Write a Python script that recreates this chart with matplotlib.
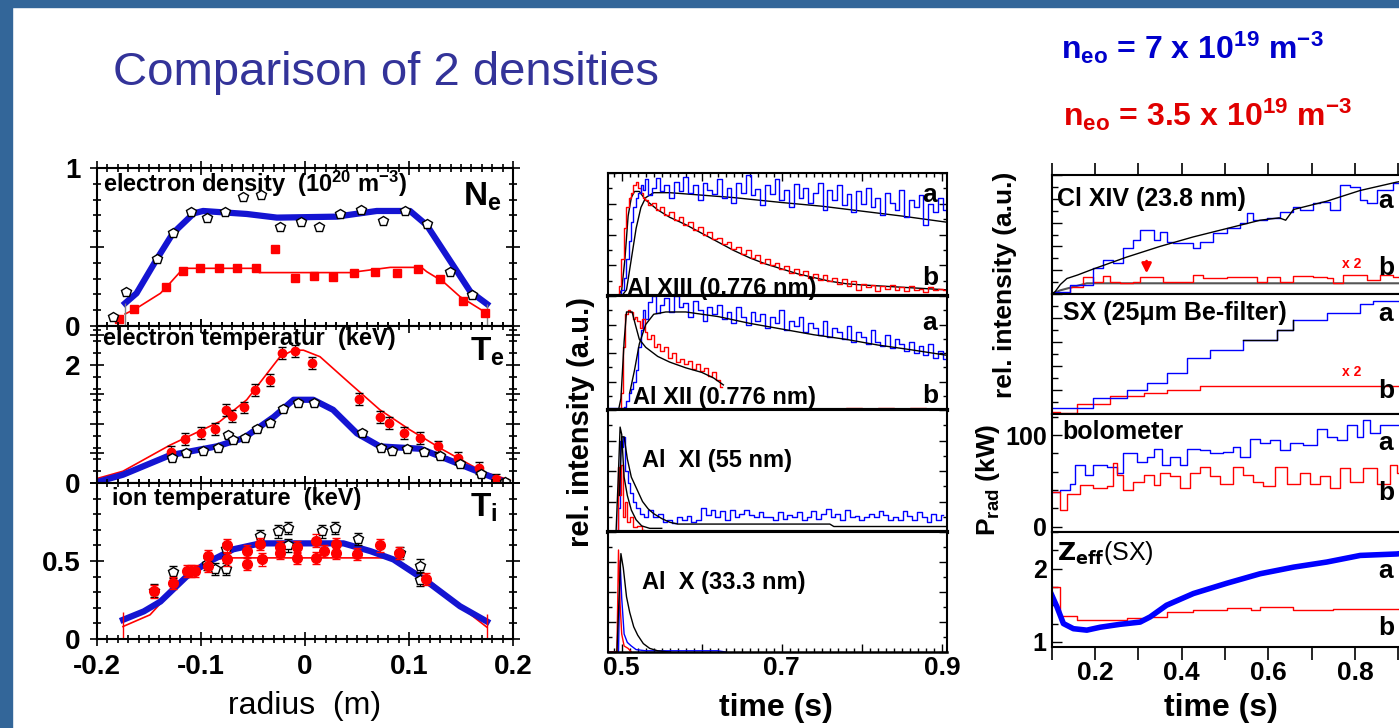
import matplotlib
matplotlib.use("Agg")
import matplotlib.pyplot as plt
import numpy as np
from matplotlib.patches import Rectangle
from matplotlib.ticker import MultipleLocator, FuncFormatter

plt.rcParams['font.family'] = ['Liberation Sans', 'DejaVu Sans']
plt.rcParams['mathtext.default'] = 'regular'

W, H = 1399, 728
BLUE = '#0000ff'
BLUE_FIT = '#1414d2'
RED = '#ff0000'
BAND = '#336699'

# ---------------- left: radial profiles ----------------
ne_fit_a_r = [-0.173, -0.162, -0.143, -0.127, -0.107, -0.098, -0.056, -0.027, 0.030, 0.069, 0.101, 0.117, 0.139, 0.159, 0.175]
ne_fit_a = [0.144, 0.207, 0.418, 0.587, 0.713, 0.728, 0.709, 0.686, 0.692, 0.728, 0.728, 0.639, 0.418, 0.217, 0.139]
ne_fit_b_r = [-0.173, -0.162, -0.139, -0.130, -0.117, -0.046, -0.044, 0.043, 0.082, 0.112, 0.117, 0.133, 0.149, 0.175]
ne_fit_b = [0.076, 0.112, 0.207, 0.27, 0.365, 0.365, 0.338, 0.338, 0.371, 0.371, 0.344, 0.28, 0.186, 0.08]
ne_red_r = [-0.1785, -0.164, -0.134, -0.117, -0.101, -0.083, -0.065, -0.047, -0.029, -0.010, 0.009, 0.027, 0.047, 0.067, 0.088, 0.109, 0.130, 0.152, 0.173]
ne_red = [0.042, 0.105, 0.245, 0.35, 0.365, 0.367, 0.369, 0.367, 0.487, 0.302, 0.316, 0.31, 0.335, 0.34, 0.333, 0.363, 0.30, 0.16, 0.08]
ne_blk_r = [-0.185, -0.172, -0.142, -0.127, -0.110, -0.094, -0.077, -0.060, -0.042, -0.024, -0.004, 0.0135, 0.034, 0.054, 0.075, 0.096, 0.117, 0.139, 0.161]
ne_blk = [0.055, 0.217, 0.424, 0.59, 0.719, 0.686, 0.724, 0.819, 0.829, 0.628, 0.66, 0.628, 0.707, 0.734, 0.667, 0.728, 0.644, 0.344, 0.196]

te_fit_b_r = [-0.205, -0.175, -0.130, -0.082, -0.056, -0.024, -0.011, -0.0015, 0.0144, 0.043, 0.072, 0.101, 0.133, 0.171, 0.197]
te_fit_b = [0.05, 0.2, 0.64, 1.04, 1.41, 2.14, 2.25, 2.25, 2.14, 1.69, 1.24, 0.9, 0.56, 0.19, 0.05]
te_fit_a_r = [-0.199, -0.175, -0.130, -0.085, -0.059, -0.030, -0.011, 0.008, 0.027, 0.050, 0.072, 0.111, 0.130, 0.171, 0.192]
te_fit_a = [0.02, 0.14, 0.47, 0.62, 0.76, 1.12, 1.41, 1.41, 1.24, 0.84, 0.62, 0.58, 0.45, 0.16, 0.02]
te_red_r = [-0.129, -0.115, -0.100, -0.087, -0.076, -0.070, -0.059, -0.048, -0.034, -0.022, -0.010, 0.007, 0.052, 0.072, 0.081, 0.095, 0.111, 0.128, 0.147, 0.167, 0.184]
te_red = [0.53, 0.74, 0.85, 0.91, 1.24, 1.14, 1.28, 1.58, 1.75, 2.2, 2.24, 2.03, 1.42, 1.12, 1.01, 0.85, 0.76, 0.62, 0.42, 0.25, 0.06]
te_blk_r = [-0.128, -0.114, -0.098, -0.084, -0.074, -0.069, -0.058, -0.046, -0.034, -0.021, -0.007, 0.009, 0.055, 0.073, 0.084, 0.098, 0.114, 0.130, 0.149, 0.169, 0.192]
te_blk = [0.42, 0.51, 0.55, 0.59, 0.81, 0.73, 0.77, 0.91, 1.02, 1.25, 1.35, 1.35, 0.84, 0.6, 0.55, 0.58, 0.53, 0.46, 0.33, 0.16, 0.02]

ti_fit_a_r = [-0.175, -0.155, -0.139, -0.114, -0.094, -0.069, -0.043, 0.037, 0.063, 0.085, 0.117, 0.149, 0.175]
ti_fit_a = [0.123, 0.177, 0.24, 0.40, 0.49, 0.575, 0.613, 0.613, 0.563, 0.51, 0.37, 0.21, 0.112]
ti_fit_b_r = [-0.175, -0.149, -0.114, -0.094, -0.075, 0.085, 0.117, 0.149, 0.175]
ti_fit_b = [0.08, 0.155, 0.41, 0.50, 0.52, 0.52, 0.39, 0.21, 0.075]
ti_red_r = [-0.145, -0.127, -0.113, -0.110, -0.106, -0.093, -0.093, -0.075, -0.075, -0.056, -0.056, -0.043, -0.041,
            -0.024, -0.024, -0.008, -0.008, 0.011, 0.011, 0.018, 0.030, 0.030, 0.050, 0.072, 0.090, 0.116]
ti_red = [0.305, 0.36, 0.435, 0.435, 0.435, 0.53, 0.47, 0.51, 0.60, 0.565, 0.48, 0.61, 0.51,
          0.59, 0.55, 0.59, 0.52, 0.63, 0.52, 0.565, 0.61, 0.55, 0.545, 0.60, 0.55, 0.385]
ti_blk_r = [-0.145, -0.127, -0.094, -0.087, -0.076, -0.076, -0.043, -0.026, -0.016, -0.016, 0.016, 0.029, 0.051, 0.091, 0.111, 0.111]
ti_blk = [0.31, 0.43, 0.48, 0.45, 0.45, 0.575, 0.66, 0.69, 0.71, 0.60, 0.69, 0.71, 0.64, 0.55, 0.47, 0.38]

# ---------------- middle: Al line intensities ----------------
t_mid = [0.4825, 0.490, 0.495, 0.498, 0.501, 0.504, 0.507, 0.510, 0.513, 0.516,
         0.519, 0.522, 0.525, 0.528, 0.531, 0.535, 0.540, 0.545, 0.550, 0.556,
         0.562, 0.568, 0.574, 0.580, 0.586, 0.592, 0.598, 0.604, 0.610, 0.616,
         0.622, 0.628, 0.634, 0.640, 0.646, 0.652, 0.658, 0.664, 0.670, 0.676,
         0.682, 0.688, 0.694, 0.700, 0.706, 0.712, 0.718, 0.724, 0.730, 0.736,
         0.742, 0.748, 0.754, 0.760, 0.766, 0.772, 0.778, 0.784, 0.790, 0.796,
         0.802, 0.808, 0.814, 0.820, 0.826, 0.832, 0.838, 0.844, 0.850, 0.856,
         0.862, 0.868, 0.874, 0.880, 0.886, 0.892, 0.898, 0.904]
xiii_blue = [0, 0, 0, 0.01, 0.05, 0.15, 0.30, 0.45, 0.60, 0.72,
             0.80, 0.84, 0.90, 0.86, 0.95, 0.82, 0.88, 0.96, 0.85, 0.90,
             0.80, 0.93, 0.85, 0.97, 0.84, 0.90, 0.78, 0.92, 0.86, 0.83,
             0.95, 0.80, 0.88, 0.76, 0.92, 0.84, 0.98, 0.82, 0.87, 0.74,
             0.90, 0.83, 0.95, 0.78, 0.86, 0.72, 0.91, 0.80, 0.88, 0.76,
             0.84, 0.92, 0.70, 0.86, 0.78, 0.90, 0.74, 0.83, 0.68, 0.85,
             0.75, 0.88, 0.72, 0.80, 0.66, 0.84, 0.76, 0.70, 0.86, 0.64,
             0.78, 0.72, 0.82, 0.58, 0.75, 0.68, 0.80, 0.70]
xiii_red = [0, 0, 0.01, 0.08, 0.30, 0.55, 0.72, 0.80, 0.84, 0.90,
            0.93, 0.88, 0.84, 0.80, 0.78, 0.74, 0.76, 0.70, 0.72, 0.66,
            0.68, 0.62, 0.64, 0.58, 0.60, 0.54, 0.56, 0.50, 0.52, 0.46,
            0.47, 0.42, 0.44, 0.38, 0.40, 0.34, 0.37, 0.31, 0.33, 0.27,
            0.30, 0.25, 0.27, 0.22, 0.24, 0.19, 0.22, 0.17, 0.20, 0.15,
            0.18, 0.13, 0.17, 0.12, 0.15, 0.10, 0.14, 0.08, 0.12, 0.05,
            0.10, 0.07, 0.09, 0.04, 0.08, 0.06, 0.09, 0.05, 0.07, 0.04,
            0.08, 0.05, 0.06, 0.03, 0.07, 0.05, 0.06, 0.05]
xiii_fit_a = [(0.4825, 0), (0.500, 0), (0.506, 0.05), (0.512, 0.3), (0.518, 0.55), (0.524, 0.72), (0.530, 0.80),
              (0.540, 0.84), (0.560, 0.84), (0.600, 0.82), (0.640, 0.80), (0.700, 0.76), (0.750, 0.73),
              (0.800, 0.69), (0.850, 0.65), (0.906, 0.60)]
xiii_fit_b = [(0.4825, 0), (0.496, 0), (0.500, 0.05), (0.504, 0.3), (0.508, 0.65), (0.512, 0.80), (0.516, 0.85),
              (0.522, 0.85), (0.530, 0.78), (0.545, 0.70), (0.56, 0.64), (0.58, 0.58), (0.60, 0.51), (0.62, 0.44),
              (0.64, 0.37), (0.66, 0.31), (0.68, 0.26), (0.70, 0.22), (0.72, 0.18), (0.74, 0.15), (0.76, 0.12),
              (0.78, 0.10), (0.80, 0.09), (0.84, 0.075), (0.88, 0.06), (0.906, 0.05)]

xii_blue = [0.02, 0.02, 0.02, 0.02, 0.02, 0.03, 0.08, 0.15, 0.18, 0.25,
            0.35, 0.55, 0.70, 0.88, 0.80, 0.95, 1.0, 0.85, 0.92, 0.98,
            0.86, 1.0, 0.90, 0.94, 0.82, 0.96, 0.88, 0.78, 0.90, 0.84,
            0.92, 0.80, 0.86, 0.76, 0.90, 0.82, 0.75, 0.86, 0.78, 0.84,
            0.72, 0.82, 0.76, 0.88, 0.70, 0.78, 0.74, 0.82, 0.68, 0.76,
            0.72, 0.66, 0.78, 0.64, 0.72, 0.68, 0.62, 0.74, 0.60, 0.68,
            0.64, 0.58, 0.70, 0.60, 0.56, 0.66, 0.54, 0.62, 0.58, 0.52,
            0.60, 0.50, 0.56, 0.48, 0.58, 0.46, 0.52, 0.45]
xii_red = [(0.4825, 0), (0.497, 0), (0.500, 0.15), (0.503, 0.55), (0.506, 0.84), (0.509, 0.88), (0.512, 0.86),
           (0.515, 0.80), (0.518, 0.82), (0.521, 0.78), (0.524, 0.72), (0.527, 0.80), (0.530, 0.68), (0.534, 0.62),
           (0.538, 0.66), (0.542, 0.55), (0.546, 0.58), (0.550, 0.52), (0.555, 0.55), (0.560, 0.46), (0.565, 0.50),
           (0.570, 0.42), (0.575, 0.45), (0.580, 0.40), (0.585, 0.43), (0.590, 0.36), (0.595, 0.40), (0.600, 0.34),
           (0.605, 0.37), (0.610, 0.30), (0.615, 0.33), (0.620, 0.26), (0.625, 0.20)]
xii_red_tail = [(0.756, 0.01), (0.77, 0.0), (0.79, 0.015), (0.81, 0.005), (0.83, 0.02), (0.85, 0.0),
                (0.87, 0.015), (0.89, 0.005), (0.906, 0.01)]
xii_fit_a = [(0.510, 0.15), (0.516, 0.35), (0.522, 0.58), (0.530, 0.75), (0.540, 0.84), (0.555, 0.86), (0.58, 0.86),
             (0.62, 0.82), (0.66, 0.76), (0.70, 0.71), (0.74, 0.66), (0.78, 0.62), (0.82, 0.57), (0.86, 0.53), (0.906, 0.48)]
xii_fit_b = [(0.4825, 0.0), (0.496, 0.0), (0.499, 0.1), (0.503, 0.6), (0.506, 0.86), (0.513, 0.86), (0.517, 0.75),
             (0.522, 0.62), (0.530, 0.55), (0.545, 0.47), (0.56, 0.42), (0.58, 0.37), (0.60, 0.33), (0.615, 0.28), (0.627, 0.22)]

xi_blk1 = [(0.4825, 0.01), (0.493, 0.01), (0.496, 0.5), (0.498, 0.86), (0.500, 0.80), (0.503, 0.45), (0.507, 0.30),
           (0.512, 0.18), (0.518, 0.10), (0.525, 0.05), (0.535, 0.03), (0.55, 0.03)]
xi_blk2 = [(0.497, 0.3), (0.500, 0.78), (0.503, 0.78), (0.507, 0.60), (0.512, 0.45), (0.519, 0.35), (0.526, 0.25),
           (0.533, 0.19), (0.540, 0.15), (0.550, 0.11), (0.560, 0.08), (0.570, 0.065), (0.60, 0.065), (0.70, 0.065),
           (0.76, 0.065), (0.765, 0.045), (0.906, 0.045)]
xi_red = [(0.4825, 0), (0.494, 0), (0.496, 0.53), (0.498, 0.30), (0.500, 0.55), (0.502, 0.12), (0.505, 0.25),
          (0.508, 0.08), (0.512, 0.12), (0.516, 0.04), (0.522, 0.05), (0.528, 0.02)]
xi_blue = [(0.4825, 0), (0.494, 0), (0.497, 0.2), (0.499, 0.75), (0.501, 0.70), (0.503, 0.78), (0.506, 0.50),
           (0.509, 0.40), (0.512, 0.32), (0.516, 0.25), (0.520, 0.20), (0.525, 0.15), (0.530, 0.12),
           (0.536, 0.18), (0.542, 0.12), (0.548, 0.15), (0.554, 0.08), (0.560, 0.10), (0.566, 0.07), (0.572, 0.12),
           (0.578, 0.10), (0.584, 0.13), (0.590, 0.08), (0.596, 0.10), (0.602, 0.20), (0.608, 0.14), (0.614, 0.18),
           (0.620, 0.12), (0.626, 0.17), (0.632, 0.10), (0.638, 0.18), (0.644, 0.12), (0.650, 0.15), (0.656, 0.18),
           (0.662, 0.14), (0.668, 0.12), (0.674, 0.16), (0.680, 0.12), (0.686, 0.12), (0.692, 0.10), (0.698, 0.16),
           (0.704, 0.11), (0.710, 0.14), (0.716, 0.12), (0.722, 0.16), (0.728, 0.10), (0.734, 0.12), (0.740, 0.17),
           (0.746, 0.11), (0.752, 0.15), (0.758, 0.19), (0.764, 0.12), (0.770, 0.15), (0.776, 0.10), (0.782, 0.18),
           (0.788, 0.12), (0.794, 0.13), (0.800, 0.10), (0.806, 0.12), (0.812, 0.15), (0.818, 0.12), (0.824, 0.17),
           (0.830, 0.14), (0.836, 0.10), (0.842, 0.12), (0.848, 0.10), (0.854, 0.17), (0.860, 0.13), (0.866, 0.10),
           (0.872, 0.16), (0.878, 0.12), (0.884, 0.08), (0.890, 0.15), (0.896, 0.10), (0.902, 0.14)]

x_blk = [(0.494, 0), (0.497, 0.5), (0.499, 0.82), (0.502, 0.70), (0.506, 0.46), (0.510, 0.33), (0.515, 0.21),
         (0.520, 0.14), (0.527, 0.07), (0.535, 0.03), (0.545, 0.01), (0.56, 0.0)]
x_red = [(0.4825, 0), (0.494, 0), (0.496, 0.85), (0.498, 0.40), (0.500, 0.15), (0.503, 0.05), (0.508, 0.03), (0.512, 0.0)]
x_blue = [(0.4825, 0), (0.496, 0), (0.498, 0.76), (0.500, 0.45), (0.503, 0.15), (0.507, 0.08), (0.512, 0.05),
          (0.518, 0.02), (0.53, 0.01), (0.62, 0.01), (0.63, 0.0)]

# ---------------- right: Cl XIV, SX, bolometer, Zeff ----------------
cl_blk = [(0.1, 0.0), (0.108, 0.02), (0.120, 0.08), (0.135, 0.13), (0.16, 0.16), (0.196, 0.21), (0.273, 0.31),
          (0.35, 0.40), (0.427, 0.48), (0.504, 0.55), (0.581, 0.62), (0.625, 0.64), (0.640, 0.62), (0.658, 0.71),
          (0.735, 0.78), (0.812, 0.87), (0.896, 0.94), (0.93, 0.96)]
cl_base = [(0.1, 0.0), (0.119, 0.03), (0.181, 0.09), (0.93, 0.09)]
cl_blue = [(0.108, 0.02), (0.142, 0.076), (0.196, 0.216), (0.219, 0.286), (0.242, 0.258), (0.265, 0.384),
           (0.288, 0.454), (0.304, 0.538), (0.331, 0.538), (0.335, 0.454), (0.35, 0.524), (0.365, 0.44),
           (0.381, 0.426), (0.412, 0.426), (0.427, 0.384), (0.442, 0.44), (0.473, 0.51), (0.504, 0.552),
           (0.535, 0.594), (0.55, 0.678), (0.565, 0.622), (0.596, 0.636), (0.627, 0.692), (0.658, 0.734),
           (0.673, 0.706), (0.704, 0.762), (0.719, 0.776), (0.742, 0.706), (0.765, 0.916), (0.788, 0.902),
           (0.812, 0.79), (0.827, 0.762), (0.85, 0.874), (0.888, 0.936), (0.904, 0.952)]
cl_red = [(0.108, 0.0), (0.142, 0.062), (0.173, 0.146), (0.196, 0.104), (0.219, 0.151), (0.235, 0.104),
          (0.258, 0.09), (0.288, 0.104), (0.304, 0.146), (0.35, 0.146), (0.358, 0.104), (0.419, 0.104),
          (0.427, 0.16), (0.45, 0.132), (0.504, 0.146), (0.558, 0.146), (0.573, 0.104), (0.596, 0.146),
          (0.627, 0.104), (0.658, 0.151), (0.704, 0.146), (0.735, 0.132), (0.75, 0.09), (0.773, 0.16),
          (0.804, 0.16), (0.827, 0.118), (0.858, 0.16), (0.888, 0.146), (0.93, 0.146)]

sx_blue = [(0.1, 0.05), (0.196, 0.13), (0.273, 0.20), (0.319, 0.26), (0.365, 0.34), (0.412, 0.47), (0.465, 0.53),
           (0.542, 0.62), (0.619, 0.70), (0.658, 0.78), (0.735, 0.84), (0.812, 0.92), (0.842, 0.94), (0.93, 0.94)]
sx_blk = [(0.542, 0.62), (0.619, 0.70), (0.658, 0.78)]
sx_red = [(0.1, 0.02), (0.119, 0.01), (0.158, 0.08), (0.235, 0.15), (0.312, 0.175), (0.365, 0.20), (0.442, 0.23), (0.93, 0.23)]

bolo_blue = [(0.1, 38), (0.119, 40), (0.142, 47), (0.154, 67), (0.177, 56), (0.196, 67), (0.227, 65), (0.25, 58),
             (0.265, 80), (0.296, 71), (0.319, 76), (0.335, 85), (0.354, 67), (0.373, 76), (0.396, 67), (0.412, 85),
             (0.442, 84), (0.465, 80), (0.496, 82), (0.519, 87), (0.535, 76), (0.558, 96), (0.581, 91), (0.604, 95),
             (0.627, 84), (0.65, 91), (0.681, 89), (0.712, 107), (0.735, 98), (0.758, 95), (0.781, 111), (0.804, 98),
             (0.819, 116), (0.835, 102), (0.858, 111), (0.93, 111)]
bolo_red = [(0.1, 38), (0.119, 18), (0.135, 36), (0.165, 45), (0.196, 42), (0.227, 44), (0.242, 69), (0.25, 56),
            (0.265, 40), (0.288, 49), (0.312, 56), (0.335, 45), (0.35, 58), (0.373, 55), (0.396, 42), (0.419, 58),
            (0.442, 65), (0.465, 55), (0.488, 47), (0.519, 65), (0.542, 56), (0.565, 49), (0.588, 44), (0.615, 65),
            (0.642, 47), (0.673, 58), (0.696, 47), (0.719, 55), (0.742, 42), (0.765, 64), (0.788, 49), (0.819, 64),
            (0.85, 47), (0.881, 67), (0.896, 58), (0.93, 55)]

zeff_blue = [(0.1, 1.64), (0.112, 1.48), (0.127, 1.25), (0.150, 1.18), (0.181, 1.16), (0.212, 1.20), (0.258, 1.24),
             (0.304, 1.27), (0.327, 1.34), (0.365, 1.50), (0.427, 1.66), (0.504, 1.80), (0.581, 1.93), (0.658, 2.02),
             (0.735, 2.09), (0.812, 2.18), (0.896, 2.20), (0.93, 2.22)]
zeff_red = [(0.1, 1.75), (0.119, 1.36), (0.158, 1.30), (0.273, 1.32), (0.319, 1.34), (0.365, 1.41), (0.427, 1.43),
            (0.504, 1.46), (0.560, 1.44), (0.580, 1.47), (0.658, 1.44), (0.75, 1.45), (0.93, 1.44)]


def xy(pairs):
    a = np.array(pairs, dtype=float)
    return a[:, 0], a[:, 1]


def rect(x0, y0, x1, y1):
    # pixel box (top-left origin) -> figure fraction
    return [x0 / W, 1 - y1 / H, (x1 - x0) / W, (y1 - y0) / H]


def ftext(px, py, s, **kw):
    fig.text(px / W, 1 - py / H, s, **kw)


fig = plt.figure(figsize=(W / 100, H / 100), dpi=100)
fig.patches.append(Rectangle((0, 1 - 7 / H), 1, 7 / H, transform=fig.transFigure, color=BAND, zorder=0))
fig.patches.append(Rectangle((0, 0), 12 / W, 1, transform=fig.transFigure, color=BAND, zorder=0))

ftext(113, 85, 'Comparison of 2 densities', fontsize=34, color='#333399', va='baseline')
ftext(1061, 48, r'$n_{eo}$ = 7 x 10$^{19}$ m$^{-3}$', fontsize=23, fontweight='bold', color='#0000cc', va='center')
ftext(1063, 115, r'$n_{eo}$ = 3.5 x 10$^{19}$ m$^{-3}$', fontsize=23, fontweight='bold', color='#e00000', va='center')

# ---- left column ----
axNe = fig.add_axes(rect(97, 168, 513, 326))
axTe = fig.add_axes(rect(97, 326, 513, 483))
axTi = fig.add_axes(rect(97, 483, 513, 639))

axNe.plot(ne_fit_a_r, ne_fit_a, color=BLUE_FIT, lw=4.5, zorder=2)
axNe.plot(ne_fit_b_r, ne_fit_b, color=RED, lw=1.2, zorder=2)
axNe.plot(ne_red_r, ne_red, 's', color=RED, ms=6, zorder=3)
axNe.plot(ne_blk_r, ne_blk, 'p', mfc='white', mec='black', ms=7, mew=1, zorder=4)
axNe.vlines([ne_fit_a_r[0], ne_fit_a_r[-1]], 0, [ne_fit_a[0], ne_fit_a[-1]], color='gray', lw=1)

axTe.plot(te_fit_b_r, te_fit_b, color=RED, lw=1.2, zorder=2)
axTe.plot(te_fit_a_r, te_fit_a, color=BLUE_FIT, lw=4.5, zorder=2)
axTe.errorbar(te_red_r, te_red, yerr=0.1, fmt='o', color=RED, ms=6, ecolor='black', elinewidth=0.8, capsize=3, zorder=3)
axTe.errorbar(te_blk_r, te_blk, yerr=0.05, fmt='p', mfc='white', mec='black', ms=7, ecolor='black',
              elinewidth=0.8, capsize=3, zorder=4)

axTi.plot(ti_fit_b_r, ti_fit_b, color=RED, lw=1.2, zorder=2)
axTi.plot(ti_fit_a_r, ti_fit_a, color=BLUE_FIT, lw=4.5, zorder=2)
axTi.errorbar(ti_blk_r, ti_blk, yerr=0.04, fmt='p', mfc='white', mec='black', ms=7, ecolor='black',
              elinewidth=0.8, capsize=3, zorder=3)
axTi.errorbar(ti_red_r, ti_red, yerr=0.04, fmt='o', color=RED, ms=7, ecolor=RED, elinewidth=0.8, capsize=3, zorder=4)
axTi.vlines([ti_fit_a_r[0], ti_fit_a_r[-1]], 0, [ti_fit_a[0] + 0.05, ti_fit_a[-1] + 0.05], color=RED, lw=1)

for ax, ymax, yt, ytl, minor in [(axNe, 1.0, [0, 0.5, 1], ['0', '', '1'], 0.1),
                                 (axTe, 2.66, [0, 0.5, 1, 1.5, 2, 2.5], ['0', '', '', '', '2', ''], 0.2),
                                 (axTi, 1.0, [0, 0.5, 1], ['0', '0.5', ''], 0.1)]:
    ax.set_xlim(-0.2, 0.2)
    ax.set_ylim(0, ymax)
    ax.xaxis.set_major_locator(MultipleLocator(0.1))
    ax.xaxis.set_minor_locator(MultipleLocator(0.01))
    ax.set_yticks(yt)
    ax.set_yticklabels(ytl)
    ax.yaxis.set_minor_locator(MultipleLocator(minor))
    ax.tick_params(which='both', direction='inout', top=True, right=True, width=1.2, labelsize=20, pad=6)
    ax.tick_params(axis='y', pad=7)
    ax.tick_params(which='major', length=10)
    ax.tick_params(which='minor', length=6)
    for sp in ax.spines.values():
        sp.set_linewidth(1.5)
    for lab in ax.get_yticklabels() + ax.get_xticklabels():
        lab.set_fontweight('bold')
axNe.tick_params(labelbottom=False)
axTe.tick_params(labelbottom=False)
axTi.xaxis.set_major_formatter(FuncFormatter(lambda v, p: '0' if abs(v) < 1e-9 else f'{v:.1f}'))
for lab in axTi.get_xticklabels():
    lab.set_fontweight('bold')
axTi.set_xlabel('radius  (m)', fontsize=23, labelpad=8)

ftext(103, 184, r'electron density  (10$^{20}$ m$^{-3}$)', fontsize=17, fontweight='bold', va='center')
ftext(103, 338, 'electron temperatur  (keV)', fontsize=17, fontweight='bold', va='center')
ftext(112, 499, 'ion temperature  (keV)', fontsize=17, fontweight='bold', va='center')
ftext(463, 197, r'$N_e$', fontsize=24, fontweight='bold', va='center')
ftext(470, 352, r'$T_e$', fontsize=24, fontweight='bold', va='center')
ftext(470, 508, r'$T_i$', fontsize=24, fontweight='bold', va='center')

# ---- middle column ----
mid_rows = [(173, 296), (296, 410), (410, 532), (532, 652)]
mid_axes = [fig.add_axes(rect(607.7, y0, 946.7, y1)) for y0, y1 in mid_rows]
m1, m2, m3, m4 = mid_axes

m1.plot(*xy(xiii_fit_a), color='black', lw=1)
m1.plot(*xy(xiii_fit_b), color='black', lw=1)
m1.plot(t_mid, xiii_red, color=RED, lw=1, drawstyle='steps-mid')
m1.plot(t_mid, xiii_blue, color=BLUE, lw=1, drawstyle='steps-mid')

m2.plot(t_mid, xii_blue, color=BLUE, lw=1, drawstyle='steps-mid')
m2.plot(*xy(xii_red), color=RED, lw=1, drawstyle='steps-mid')
m2.plot(*xy(xii_red_tail), color=RED, lw=1, drawstyle='steps-mid')
m2.plot(*xy(xii_fit_a), color='black', lw=1)
m2.plot(*xy(xii_fit_b), color='black', lw=1)

m3.plot(*xy(xi_blue), color=BLUE, lw=1, drawstyle='steps-mid')
m3.plot(*xy(xi_red), color=RED, lw=1, drawstyle='steps-mid')
m3.plot(*xy(xi_blk1), color='black', lw=1)
m3.plot(*xy(xi_blk2), color='black', lw=1)

m4.plot(*xy(x_blue), color=BLUE, lw=1)
m4.plot(*xy(x_red), color=RED, lw=1)
m4.plot(*xy(x_blk), color='black', lw=1)

for i, ax in enumerate(mid_axes):
    ax.set_xlim(0.4825, 0.906)
    ax.set_ylim(0, 1.0)
    ax.xaxis.set_major_locator(MultipleLocator(0.1))
    ax.xaxis.set_minor_locator(MultipleLocator(0.01))
    ax.yaxis.set_major_locator(MultipleLocator(0.25))
    ax.yaxis.set_minor_locator(MultipleLocator(0.125))
    ax.tick_params(which='both', direction='in', top=(i == 0), bottom=(i == 3), left=True, right=True,
                   labelleft=False, labelbottom=(i == 3), width=1, labelsize=19, pad=3)
    ax.tick_params(which='major', length=6)
    ax.tick_params(which='minor', length=3)
    for sp in ax.spines.values():
        sp.set_linewidth(1.5)
    ax.spines['bottom'].set_linewidth(3.0 if i < 3 else 1.8)
m4.xaxis.set_major_formatter(FuncFormatter(lambda v, p: f'{v:.1f}' if round(v * 10) in (5, 7, 9) else ''))
for lab in m4.get_xticklabels():
    lab.set_fontweight('bold')

ftext(627, 289, 'Al XIII (0.776 nm)', fontsize=17, fontweight='bold', va='center')
ftext(633, 398, 'Al XII (0.776 nm)', fontsize=17, fontweight='bold', va='center')
ftext(642, 461, 'Al  XI (55 nm)', fontsize=17, fontweight='bold', va='center')
ftext(642, 583, 'Al  X (33.3 nm)', fontsize=17, fontweight='bold', va='center')
for py, s in [(195, 'a'), (278, 'b'), (323, 'a'), (396, 'b')]:
    ftext(930, py, s, fontsize=19, fontweight='bold', ha='center', va='center')
ftext(581, 422, 'rel. intensity (a.u.)', fontsize=21, fontweight='bold', rotation=90, ha='center', va='center')
ftext(776, 708, 'time (s)', fontsize=23, fontweight='bold', ha='center', va='center')

# ---- right column ----
right_rows = [(175, 294), (294, 414), (414, 532), (532, 647)]
right_axes = [fig.add_axes(rect(1051.7, y0, 1407, y1)) for y0, y1 in right_rows]
r1, r2, r3, r4 = right_axes

r1.plot(*xy(cl_base), color='#555555', lw=1.5)
r1.plot(*xy(cl_red), color=RED, lw=1, drawstyle='steps-post')
r1.plot(*xy(cl_blue), color=BLUE, lw=1, drawstyle='steps-post')
r1.plot(*xy(cl_blk), color='black', lw=1)
r1.annotate('', xy=(0.319, 0.15), xytext=(0.319, 0.30),
            arrowprops=dict(arrowstyle='-|>', color=RED, lw=2, mutation_scale=14))

r2.plot(*xy(sx_red), color=RED, lw=1, drawstyle='steps-post')
r2.plot(*xy(sx_blue), color=BLUE, lw=1, drawstyle='steps-post')
r2.plot(*xy(sx_blk), color='black', lw=1, drawstyle='steps-post')

r3.plot(*xy(bolo_blue), color=BLUE, lw=1, drawstyle='steps-post')
r3.plot(*xy(bolo_red), color=RED, lw=1, drawstyle='steps-post')

r4.plot(*xy(zeff_red), color=RED, lw=1, drawstyle='steps-post')
r4.plot(*xy(zeff_blue), color=BLUE, lw=4)

r1.set_ylim(0, 1.0)
r2.set_ylim(0, 1.0)
r3.set_ylim(-6, 123)
r4.set_ylim(0.93, 2.5)
for i, ax in enumerate(right_axes):
    ax.set_xlim(0.1, 0.92)
    ax.xaxis.set_major_locator(MultipleLocator(0.1))
    for sp in ax.spines.values():
        sp.set_linewidth(1.5)
    ax.tick_params(axis='x', which='both', direction='out', length=9, width=1.2,
                   top=(i == 0), bottom=(i == 3), labelbottom=(i == 3), labelsize=19, pad=1)
    ax.tick_params(axis='y', which='both', direction='in', left=True, right=False, width=1, labelsize=18)
    ax.tick_params(axis='y', which='major', length=7)
    ax.tick_params(axis='y', which='minor', length=4)
for ax in (r1, r2):
    ax.yaxis.set_major_locator(MultipleLocator(0.2))
    ax.yaxis.set_minor_locator(MultipleLocator(0.1))
    ax.tick_params(labelleft=False)
r3.set_yticks([0, 100])
r3.yaxis.set_minor_locator(MultipleLocator(20))
r4.set_yticks([1, 2])
r4.yaxis.set_minor_locator(MultipleLocator(0.25))
r4.xaxis.set_major_formatter(FuncFormatter(lambda v, p: f'{v:.1f}' if round(v * 10) in (2, 4, 6, 8) else ''))
for ax in (r3, r4):
    for lab in ax.get_yticklabels():
        lab.set_fontweight('bold')
for lab in r4.get_xticklabels():
    lab.set_fontweight('bold')

ftext(1057, 199, 'Cl XIV (23.8 nm)', fontsize=18, fontweight='bold', va='center')
ftext(1063, 313, 'SX (25\u03bcm Be-filter)', fontsize=18, fontweight='bold', va='center')
ftext(1062, 432, 'bolometer', fontsize=18, fontweight='bold', va='center')
ftext(1057, 553, r'$\mathbf{Z_{eff}}$(SX)', fontsize=18, va='center')
for py, s in [(201, 'a'), (268, 'b'), (314, 'a'), (391, 'b'), (443, 'a'), (493, 'b'), (571, 'a'), (628, 'b')]:
    ftext(1386, py, s, fontsize=19, fontweight='bold', ha='center', va='center')
ftext(1352, 264, 'x 2', fontsize=10, fontweight='bold', color=RED, ha='center', va='center')
ftext(1352, 372, 'x 2', fontsize=10, fontweight='bold', color=RED, ha='center', va='center')
ftext(1005, 285, 'rel. intensity (a.u.)', fontsize=19, fontweight='bold', rotation=90, ha='center', va='center')
ftext(988, 480, r'$P_{rad}$ (kW)', fontsize=19, fontweight='bold', rotation=90, ha='center', va='center')
ftext(1221, 708, 'time (s)', fontsize=23, fontweight='bold', ha='center', va='center')

fig.savefig('out.png', dpi=100)
